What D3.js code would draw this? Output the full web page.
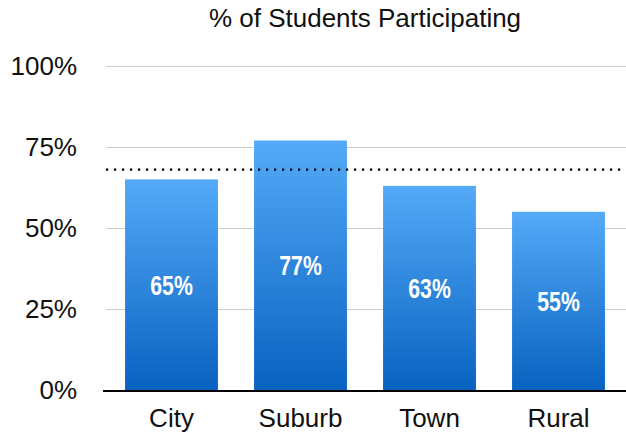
<!DOCTYPE html>
<html><head><meta charset="utf-8">
<script src="https://cdn.jsdelivr.net/npm/d3@7"></script>
<style>body{margin:0;background:#fff}svg{display:block}</style>
</head><body><div id="chart"></div>
<script>
const categories = ["City", "Suburb", "Town", "Rural"];
const values = [65, 77, 63, 55];
const referenceValue = 68;
const yTicks = [0, 25, 50, 75, 100];
const title = "% of Students Participating";

const W = 626, H = 435;
const svg = d3.select("#chart").append("svg").attr("width", W).attr("height", H);
const font = "'Liberation Sans', Arial, Helvetica, sans-serif";

const x = d3.scaleBand().domain(categories).range([107, 623]).paddingInner(0.28).paddingOuter(0.14);
const y = d3.scaleLinear().domain([0, 100]).range([390, 66]);

const defs = svg.append("defs");
const g = defs.append("linearGradient").attr("id", "barGrad").attr("x1", 0).attr("y1", 0).attr("x2", 0).attr("y2", 1);
g.append("stop").attr("offset", "0%").attr("stop-color", "#54aaf8");
g.append("stop").attr("offset", "100%").attr("stop-color", "#0862c0");

// gridlines
svg.append("g").selectAll("line").data(yTicks.filter(d => d > 0)).join("line")
  .attr("x1", 106).attr("x2", W).attr("y1", d => Math.round(y(d)) + 0.5).attr("y2", d => Math.round(y(d)) + 0.5)
  .attr("stroke", "#cccccc").attr("stroke-width", 1);

// y labels
svg.append("g").selectAll("text").data(yTicks).join("text")
  .attr("x", 77).attr("y", d => y(d) + 9).attr("text-anchor", "end")
  .attr("font-family", font).attr("font-size", 26).attr("fill", "#111")
  .text(d => d + "%");

// bars
svg.append("g").selectAll("rect").data(values).join("rect")
  .attr("x", (d, i) => x(categories[i])).attr("width", x.bandwidth())
  .attr("y", d => y(d)).attr("height", d => y(0) - y(d))
  .attr("fill", "url(#barGrad)");

// value labels (condensed bold)
svg.append("g").selectAll("text").data(values).join("text")
  .attr("transform", (d, i) => `translate(${x(categories[i]) + x.bandwidth() / 2},${(y(d) + y(0)) / 2 + 10}) scale(0.76,1)`)
  .attr("text-anchor", "middle")
  .attr("font-family", font)
  .attr("font-weight", "bold").attr("font-size", 28).attr("fill", "#fff")
  .text(d => d + "%");

// reference dotted line
svg.append("line")
  .attr("x1", 106).attr("x2", W).attr("y1", y(referenceValue)).attr("y2", y(referenceValue))
  .attr("stroke", "#000").attr("stroke-width", 2.2).attr("stroke-dasharray", "2.2,5.8");

// x axis line
svg.append("line").attr("x1", 103).attr("x2", W).attr("y1", y(0) + 1).attr("y2", y(0) + 1)
  .attr("stroke", "#000").attr("stroke-width", 2);

// category labels
svg.append("g").selectAll("text").data(categories).join("text")
  .attr("x", d => x(d) + x.bandwidth() / 2).attr("y", 427)
  .attr("text-anchor", "middle").attr("font-family", font).attr("font-size", 26).attr("fill", "#111")
  .text(d => d);

// title
svg.append("text").attr("x", 365).attr("y", 27).attr("text-anchor", "middle")
  .attr("font-family", font).attr("font-size", 26).attr("fill", "#111").text(title);
</script></body></html>
